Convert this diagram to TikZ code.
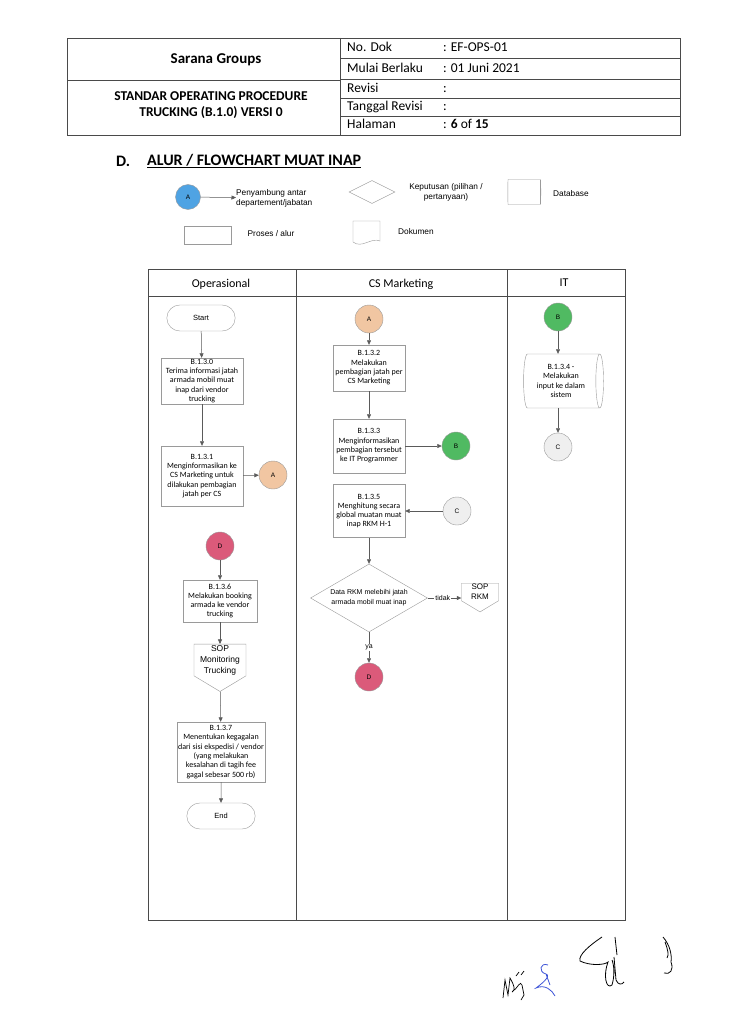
\documentclass[tikz,border=0pt]{standalone}
\usepackage{fontspec}
\setmainfont{Carlito}
\newfontfamily\arialfont{Liberation Sans}
\usepackage{tikz}
\usetikzlibrary{arrows.meta}
\usetikzlibrary{positioning}
\usetikzlibrary{shapes.geometric,shapes.misc,shapes.symbols}
\usepackage{xcolor}

\definecolor{lineg}{HTML}{5A5A5A}
\definecolor{boxg}{HTML}{9A9A9A}
\definecolor{frameg}{HTML}{4A4A4A}
\definecolor{conA}{HTML}{F1C6A2}
\definecolor{conB}{HTML}{50BA62}
\definecolor{conC}{HTML}{EFEFEF}
\definecolor{conD}{HTML}{DB5A7A}
\definecolor{legA}{HTML}{4FA3E3}
\definecolor{inkblue}{HTML}{3F55D8}

\tikzset{
    process/.style={
        draw=boxg,
        rectangle,
        align=center,
        inner sep=1pt,
        font=\fontsize{8}{9.3}\selectfont
    },
    terminal/.style={
        draw=boxg,
        rounded rectangle,
        minimum width=75pt,
        minimum height=26pt,
        font=\arialfont\fontsize{7.5}{9}\selectfont
    },
    conn/.style={
        draw=boxg,
        circle,
        minimum size=28pt,
        inner sep=0pt,
        font=\arialfont\fontsize{6.5}{8}\selectfont
    },
    offpage/.style={
        draw=boxg,
        signal,
        signal to=south,
        signal from=nowhere,
        signal pointer angle=118,
        align=center,
        inner sep=1pt,
        font=\arialfont\fontsize{8.5}{11}\selectfont
    },
    decision/.style={
        draw=boxg,
        diamond,
        inner sep=0pt
    },
    database/.style={
        draw=boxg,
        cylinder,
        align=center,
        inner sep=1pt,
        font=\fontsize{8}{9.3}\selectfont
    },
    flow/.style={
        draw=lineg,
        line width=0.5pt,
        -{Triangle[length=4.5pt, width=4pt]}
    },
    legtext/.style={
        font=\arialfont\fontsize{8.3}{10}\selectfont,
        inner sep=0pt
    },
    tableline/.style={draw=frameg, line width=0.6pt},
    hdr/.style={font=\fontsize{13.5}{15}\selectfont, inner sep=0pt}
}

\begin{document}
\begin{tikzpicture}[x=1pt, y=-1pt]
    \useasboundingbox[fill=white] (0,0) rectangle (744,1024);

    % Header table
    \draw[tableline] (67,38) rectangle (680,135);
    \draw[tableline] (340,38) -- (340,135);
    \draw[tableline] (67,80) -- (340,80);
    \foreach \y in {58,79,98,116}
        \draw[tableline] (340,\y) -- (680,\y);
    \node[hdr, font=\bfseries\fontsize{15}{17}\selectfont] (company) at (216,60) {Sarana Groups};
    \node[hdr, align=center, font=\bfseries\fontsize{13.5}{16}\selectfont] (doctitle) at (211,105)
        {STANDAR OPERATING PROCEDURE\\TRUCKING (B.1.0) VERSI 0};
    \foreach \y/\lab/\val in {52/No. Dok/{: EF-OPS-01}, 73/Mulai Berlaku/{: 01 Juni 2021},
        93/Revisi/{:}, 111/Tanggal Revisi/{:}, 129/Halaman/{: \textbf{6} of \textbf{15}}} {
        \node[hdr, anchor=base west] (lab\y) at (347,\y) {\lab};
        \node[hdr, anchor=base west] (val\y) at (443,\y) {\val};
    }

    % Section title
    \node[anchor=west, inner sep=0pt, font=\bfseries\fontsize{16}{18}\selectfont] (secD) at (116,161) {D.};
    \node[anchor=west, inner sep=0pt, font=\bfseries\fontsize{16}{18}\selectfont] (sectitle) at (147,161)
        {\underline{ALUR / FLOWCHART MUAT INAP}};

    % Legend
    \node[conn, fill=legA, minimum size=25pt] (legA) at (188,197) {A};
    \node[legtext, anchor=west, align=left] (legAtext) at (236,198) {Penyambung antar\\departement/jabatan};
    \draw[flow] (legA) -- (legAtext);
    \node[decision, minimum width=46pt, minimum height=23pt] (legDec) at (372,192) {};
    \node[legtext, align=center] (legDecText) at (446,192) {Keputusan (pilihan /\\pertanyaan)};
    \node[database, minimum width=25pt, minimum height=33pt, shape aspect=0.3] (legDb) at (524,192) {};
    \node[legtext, anchor=west] (legDbText) at (553,194) {Database};
    \node[process, minimum width=47pt, minimum height=18pt] (legProc) at (208,235) {};
    \node[legtext] (legProcText) at (271,234) {Proses / alur};
    \draw[draw=boxg] (353,221) -- (380,221) -- (380,241)
        .. controls (371,237) and (362,249) .. (353,242) -- cycle;
    \node[legtext, anchor=west] (legDocText) at (398,232) {Dokumen};

    % Swimlanes
    \draw[draw=frameg, line width=0.7pt] (148,269) rectangle (625,920);
    \draw[draw=frameg, line width=0.7pt] (148,296) -- (625,296);
    \draw[draw=frameg, line width=0.7pt] (296,269) -- (296,920);
    \draw[draw=frameg, line width=0.7pt] (507,269) -- (507,920);
    \node[hdr, font=\fontsize{12}{14}\selectfont] (opsHead) at (221,284) {Operasional};
    \node[hdr, font=\fontsize{12}{14}\selectfont] (csHead) at (401,284) {CS Marketing};
    \node[hdr, font=\fontsize{12}{14}\selectfont] (itHead) at (564,283) {IT};

    % Operasional
    \node[terminal] (start) at (201,318) {Start};
    \node[process, minimum width=82pt, minimum height=46pt] (b130) at (202,381)
        {B.1.3.0\\Terima informasi jatah\\armada mobil muat\\inap dari vendor\\trucking};
    \node[process, minimum width=82pt, minimum height=60pt] (b131) at (202,476)
        {B.1.3.1\\Menginformasikan ke\\CS Marketing untuk\\dilakukan pembagian\\jatah per CS};
    \node[conn, fill=conA] (outA) at (273,475) {A};
    \node[conn, fill=conD] (inD) at (220,546) {D};
    \node[process, minimum width=74pt, minimum height=42pt] (b136) at (220,601)
        {B.1.3.6\\Melakukan booking\\armada ke vendor\\trucking};
    \node[offpage, text width=50pt] (sopMon) at (220,660)
        {SOP\\Monitoring\\Trucking};
    \node[process, minimum width=81pt, minimum height=60pt] (b137) at (221,752)
        {B.1.3.7\\Menentukan kegagalan\\dari sisi ekspedisi / vendor\\(yang melakukan\\kesalahan di tagih fee\\gagal sebesar 500 rb)};
    \node[terminal] (end) at (221,816) {End};

    \draw[flow] (start) -- (b130);
    \draw[flow] (b130) -- (b131);
    \draw[flow] (b131) -- (outA);
    \draw[flow] (inD) -- (b136);
    \draw[flow] (b136) -- (sopMon);
    \draw[flow] (sopMon) -- (b137);
    \draw[flow] (b137) -- (end);

    % CS Marketing
    \node[conn, fill=conA] (inA) at (369,319) {A};
    \node[process, minimum width=72pt, minimum height=46pt] (b132) at (369,368)
        {B.1.3.2\\Melakukan\\pembagian jatah per\\CS Marketing};
    \node[process, minimum width=72pt, minimum height=54pt] (b133) at (369,446)
        {B.1.3.3\\Menginformasikan\\pembagian tersebut\\ke IT Programmer};
    \node[conn, fill=conB] (outB) at (456,446) {B};
    \node[process, minimum width=72pt, minimum height=53pt] (b135) at (369,511)
        {B.1.3.5\\Menghitung secara\\global muatan muat\\inap RKM H-1};
    \node[conn, fill=conC] (inC) at (457,511) {C};
    \node[decision, minimum width=117pt, minimum height=68pt,
        label={[legtext, font=\arialfont\fontsize{7}{10}\selectfont, align=center]center:Data RKM melebihi jatah\\armada mobil muat inap}]
        (dec) at (369,598) {};
    \node[offpage, text width=35pt, font=\arialfont\fontsize{8}{10}\selectfont] (sopRkm) at (480,592)
        {SOP\\RKM};
    \node[conn, fill=conD] (outD) at (369,677) {D};

    \draw[flow] (inA) -- (b132);
    \draw[flow] (b132) -- (b133);
    \draw[flow] (b133) -- (outB);
    \draw[flow] (inC) -- (b135);
    \draw[flow] (b135) -- (dec);
    \draw[flow] (dec) -- node[legtext, font=\arialfont\fontsize{7}{8}\selectfont, fill=white, inner sep=1pt, pos=0.45] {tidak} (dec -| sopRkm.west);
    \draw[flow] (dec) -- node[legtext, font=\arialfont\fontsize{7}{8}\selectfont, fill=white, inner sep=1pt, pos=0.5] {ya} (outD);

    % IT
    \node[conn, fill=conB] (itB) at (558,317) {B};
    \node[database, minimum width=54pt, minimum height=80pt, shape aspect=0.22] (b134) at (561,381)
        {B.1.3.4 -\\Melakukan\\input ke dalam\\sistem};
    \node[conn, fill=conC] (itC) at (558,447) {C};

    \draw[flow] (itB) -- (itB |- b134.north);
    \draw[flow] (itB |- b134.south) -- (itC);

    % Signatures
    \draw[line width=0.7pt] (503,998) -- (505,980) -- (508,995) -- (510,978) .. controls (514,985) and (516,990) .. (512,992)
        .. controls (518,988) and (520,980) .. (522,985) -- (524,995) -- (521,1000);
    \draw[line width=0.7pt] (516,976) -- (519,972) (521,975) -- (524,971);
    \draw[inkblue, line width=0.8pt] (548,965) .. controls (540,962) and (538,972) .. (546,974)
        .. controls (552,976) and (540,985) .. (536,988) .. controls (545,984) and (552,990) .. (555,996)
        (546,974) -- (550,985);
    \draw[line width=0.8pt] (602,937) .. controls (590,945) and (578,955) .. (580,961)
        .. controls (590,966) and (605,965) .. (608,962) .. controls (603,975) and (606,990) .. (612,985)
        .. controls (615,975) and (614,965) .. (612,960) (614,957) -- (616,980) .. controls (618,985) and (622,985) .. (624,982)
        (615,937) -- (617,955);
    \draw[line width=0.8pt] (663,937) .. controls (670,945) and (672,955) .. (671,962)
        .. controls (674,970) and (670,975) .. (664,973) (665,942) .. controls (668,950) and (669,955) .. (667,958);
\end{tikzpicture}
\end{document}
